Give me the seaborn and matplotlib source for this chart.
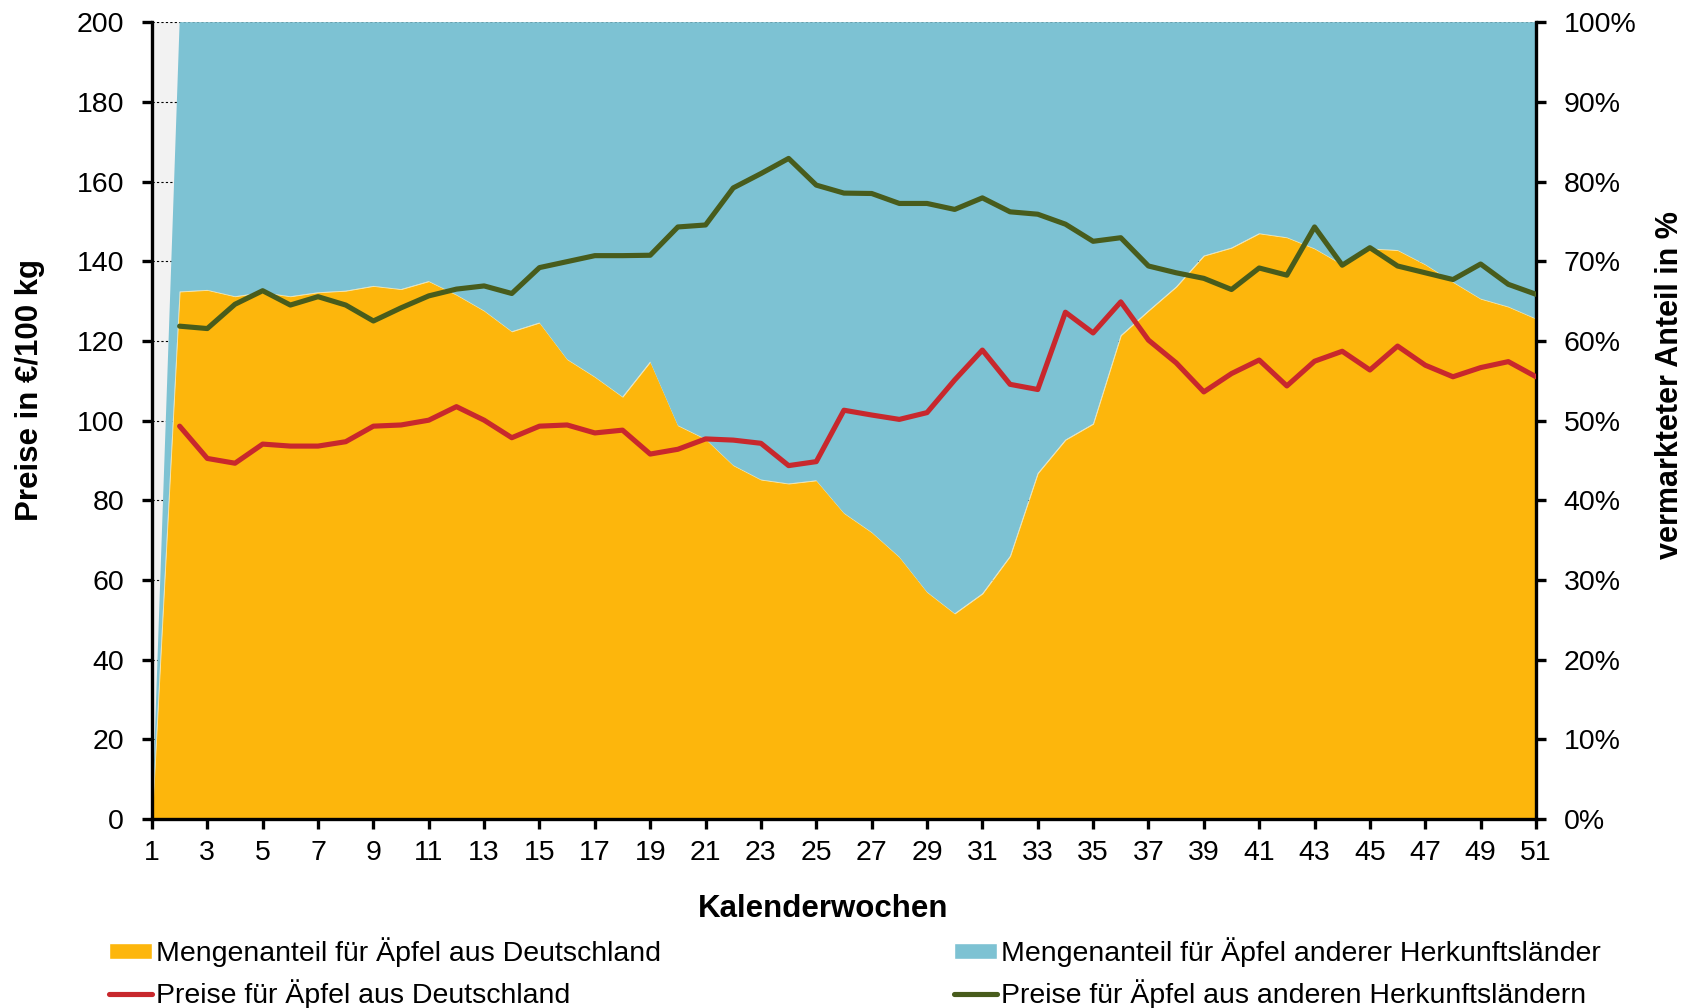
import matplotlib
matplotlib.use("Agg")
import matplotlib.pyplot as plt
from matplotlib.patches import Patch
from matplotlib.lines import Line2D
from matplotlib.ticker import FuncFormatter
import seaborn as sns
import pandas as pd

# data
weeks = list(range(1, 52))
price_weeks = list(range(2, 52))

# share of marketed volume in %
share_de = [0, 66.2, 66.4, 65.6, 66.1, 65.6, 66.1, 66.3, 66.9, 66.5, 67.5,
            65.8, 63.8, 61.2, 62.3, 57.7, 55.5, 53.0, 57.4, 49.4, 47.7,
            44.4, 42.6, 42.1, 42.5, 38.4, 36.0, 32.9, 28.5, 25.8, 28.3,
            33.0, 43.4, 47.6, 49.6, 60.7, 63.8, 66.8, 70.7, 71.7, 73.5,
            73.0, 71.6, 69.6, 71.6, 71.4, 69.6, 67.4, 65.3, 64.3, 62.8]
share_other = [0, 33.8, 33.6, 34.4, 33.9, 34.4, 33.9, 33.7, 33.1, 33.5, 32.5,
               34.2, 36.2, 38.8, 37.7, 42.3, 44.5, 47.0, 42.6, 50.6, 52.3,
               55.6, 57.4, 57.9, 57.5, 61.6, 64.0, 67.1, 71.5, 74.2, 71.7,
               67.0, 56.6, 52.4, 50.4, 39.3, 36.2, 33.2, 29.3, 28.3, 26.5,
               27.0, 28.4, 30.4, 28.4, 28.6, 30.4, 32.6, 34.7, 35.7, 37.2]

# prices in EUR/100 kg, weeks 2..51
price_de = [98.6, 90.5, 89.3, 94.1, 93.6, 93.6, 94.7, 98.6, 98.9, 100.1,
            103.5, 100.1, 95.7, 98.6, 98.9, 96.9, 97.6, 91.6, 92.8, 95.4,
            95.1, 94.3, 88.7, 89.7, 102.6, 101.4, 100.3, 102.0, 110.2, 117.7,
            109.1, 107.8, 127.2, 122.0, 129.8, 120.2, 114.5, 107.2, 111.8, 115.2,
            108.7, 114.9, 117.4, 112.7, 118.7, 113.9, 111.0, 113.3, 114.8, 111.0]
price_other = [123.7, 123.1, 129.2, 132.6, 129.0, 131.1, 129.0, 125.0, 128.3, 131.3,
               133.0, 133.8, 131.9, 138.4, 139.9, 141.4, 141.4, 141.5, 148.6, 149.1,
               158.4, 162.0, 165.8, 159.1, 157.1, 157.0, 154.5, 154.5, 153.0, 155.9,
               152.4, 151.8, 149.3, 145.0, 145.9, 138.8, 137.1, 135.7, 132.9, 138.3,
               136.5, 148.6, 139.0, 143.4, 138.8, 137.1, 135.4, 139.3, 134.2, 131.7]

labels = ["Mengenanteil für Äpfel aus Deutschland",
          "Mengenanteil für Äpfel anderer Herkunftsländer",
          "Preise für Äpfel aus Deutschland",
          "Preise für Äpfel aus anderen Herkunftsländern"]

c_orange = "#FDB60C"
c_blue = "#7DC2D3"
c_red = "#C8282D"
c_green = "#485C1C"

sns.set_style("white")
plt.rcParams["font.family"] = ["Liberation Sans", "DejaVu Sans"]
plt.rcParams["font.size"] = 20
for k in ("text.color", "axes.labelcolor", "xtick.color", "ytick.color"):
    plt.rcParams[k] = "black"

prices = pd.DataFrame({"week": price_weeks, "de": price_de, "other": price_other})

fig, ax = plt.subplots(figsize=(16.92, 10.08), dpi=100)
fig.subplots_adjust(left=0.0898, right=0.9078, top=0.978, bottom=0.1875)
ax2 = ax.twinx()

# areas on the percentage axis, drawn below the price lines
polys = ax2.stackplot(weeks, share_de, share_other, colors=[c_orange, c_blue], zorder=2)
polys[0].set_edgecolor("#f3e7b0")
polys[0].set_linewidth(0.6)
polys[1].set_edgecolor("none")
ax2.set_ylim(0, 100)
ax2.set_yticks(range(0, 101, 10))
ax2.yaxis.set_major_formatter(FuncFormatter(lambda v, p: f"{v:.0f}%"))
ax2.set_axisbelow(True)
ax2.grid(axis="y", color="black", linestyle=(0, (2, 2)), linewidth=0.8)
ax2.patch.set_visible(True)
ax2.patch.set_facecolor("#f2f2f2")
ax2.set_ylabel("vermarkteter Anteil in %", fontweight="bold", fontsize=22)
ax2.yaxis.set_label_coords(1.086, 0.545)

ax.set_zorder(ax2.get_zorder() + 1)
ax.patch.set_visible(False)

sns.lineplot(data=prices, x="week", y="de", color=c_red, linewidth=3.7, ax=ax)
sns.lineplot(data=prices, x="week", y="other", color=c_green, linewidth=3.7, ax=ax)

ax.set_xlim(1, 51)
ax.set_ylim(0, 200)
ax.set_xticks(range(1, 52, 2))
ax.set_yticks(range(0, 201, 20))
ax.set_xlabel("Kalenderwochen", fontweight="bold", fontsize=22.5)
ax.set_ylabel("Preise in €/100 kg", fontweight="bold", fontsize=22.5)
ax.xaxis.set_label_coords(0.485, -0.094)
ax.yaxis.set_label_coords(-0.077, 0.539)

for a in (ax, ax2):
    for s in a.spines.values():
        s.set_visible(False)
ax.spines["left"].set_visible(True)
ax.spines["bottom"].set_visible(True)
ax2.spines["right"].set_visible(True)
for s in (ax.spines["left"], ax.spines["bottom"], ax2.spines["right"]):
    s.set_color("black")
    s.set_linewidth(2.4)

ax.tick_params(axis="y", direction="out", length=7, width=2.4, pad=13, labelsize=20.5, left=True)
ax.tick_params(axis="x", direction="out", length=7, width=2.4, pad=8, labelsize=20.5, bottom=True)
ax2.tick_params(axis="y", direction="out", length=7, width=2.4, pad=13, labelsize=20.5, right=True)

h1 = [Patch(facecolor=c_orange), Line2D([], [], color=c_red, linewidth=3.7)]
h2 = [Patch(facecolor=c_blue), Line2D([], [], color=c_green, linewidth=3.7)]
leg_kw = dict(loc="upper left", frameon=False, fontsize=20.5, borderpad=0,
              handlelength=1.5, handleheight=0.5, handletextpad=0.15, labelspacing=0.42)
fig.legend(h1, [labels[0], labels[2]], bbox_to_anchor=(0.056, 0.0845), **leg_kw)
fig.legend(h2, [labels[1], labels[3]], bbox_to_anchor=(0.5555, 0.0845), **leg_kw)

fig.savefig("out.png", dpi=100)
